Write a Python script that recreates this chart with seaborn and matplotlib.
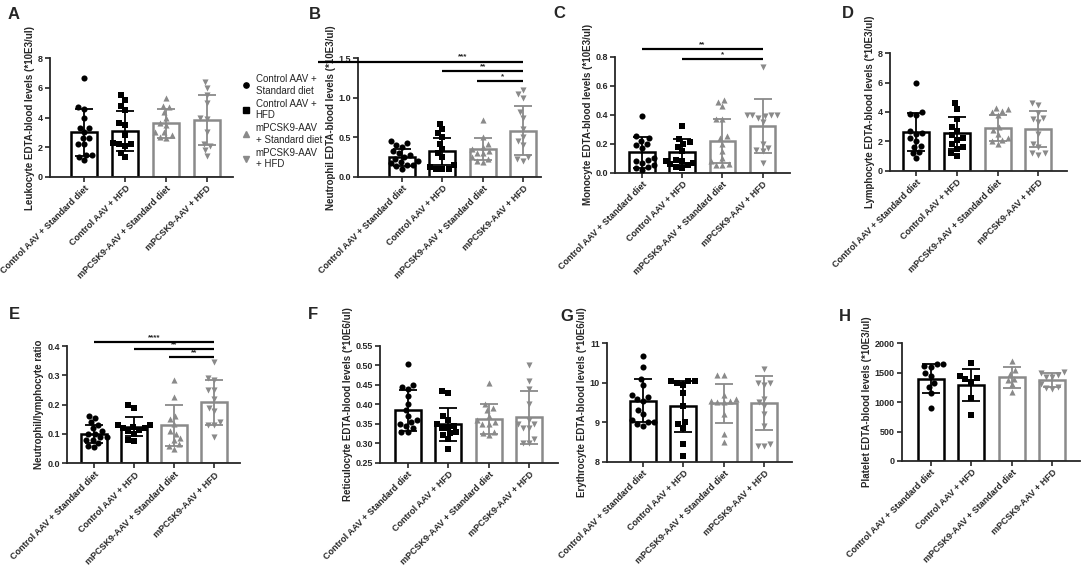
import matplotlib
matplotlib.use('Agg')
import matplotlib.pyplot as plt
from matplotlib.lines import Line2D
from matplotlib.ticker import FormatStrFormatter
import seaborn as sns

groups = ['Control AAV + Standard diet', 'Control AAV + HFD',
          'mPCSK9-AAV + Standard diet', 'mPCSK9-AAV + HFD']
legend_labels = ['Control AAV +\nStandard diet', 'Control AAV +\nHFD',
                 'mPCSK9-AAV\n+ Standard diet', 'mPCSK9-AAV\n+ HFD']

# A - leukocytes
leuko_mean = [3.0, 3.1, 3.6, 3.85]
leuko_sd = [1.6, 1.35, 1.0, 1.7]
leuko_pts = [[6.7, 4.7, 4.6, 4.0, 3.3, 3.3, 3.0, 2.6, 2.6, 2.2, 2.2, 1.5, 1.5, 1.3, 1.1],
             [5.5, 5.2, 4.8, 4.5, 3.6, 3.5, 2.8, 2.3, 2.2, 2.2, 2.1, 1.6, 1.3],
             [5.3, 4.8, 4.7, 4.4, 4.0, 3.6, 3.5, 3.0, 3.0, 2.8, 2.7, 2.6],
             [6.4, 6.0, 5.5, 5.0, 4.0, 3.9, 3.0, 2.2, 2.1, 1.8, 1.4]]

# B - neutrophils
neutro_mean = [0.245, 0.32, 0.35, 0.58]
neutro_sd = [0.11, 0.17, 0.14, 0.31]
neutro_pts = [[0.45, 0.43, 0.40, 0.38, 0.32, 0.30, 0.28, 0.25, 0.22, 0.20, 0.18, 0.17, 0.15, 0.15, 0.13, 0.10],
              [0.67, 0.60, 0.55, 0.50, 0.42, 0.35, 0.30, 0.25, 0.15, 0.12, 0.10, 0.10, 0.10],
              [0.72, 0.50, 0.42, 0.38, 0.35, 0.32, 0.30, 0.30, 0.25, 0.22, 0.20, 0.18],
              [1.10, 1.05, 1.00, 0.82, 0.75, 0.60, 0.50, 0.45, 0.40, 0.25, 0.22, 0.20]]
neutro_sig = [(0, 3, '***'), (1, 3, '**'), (2, 3, '*')]

# C - monocytes
mono_mean = [0.14, 0.14, 0.22, 0.32]
mono_sd = [0.105, 0.09, 0.15, 0.185]
mono_pts = [[0.39, 0.25, 0.24, 0.22, 0.20, 0.19, 0.17, 0.10, 0.09, 0.08, 0.07, 0.05, 0.04, 0.03, 0.02],
            [0.32, 0.23, 0.21, 0.20, 0.18, 0.15, 0.09, 0.08, 0.08, 0.07, 0.06, 0.05, 0.04, 0.03],
            [0.50, 0.49, 0.46, 0.37, 0.37, 0.25, 0.24, 0.20, 0.15, 0.10, 0.08, 0.06, 0.05, 0.05],
            [0.73, 0.40, 0.40, 0.40, 0.40, 0.39, 0.38, 0.35, 0.20, 0.17, 0.16, 0.15, 0.07]]
mono_sig = [(0, 3, '**'), (1, 3, '*')]

# D - lymphocytes
lympho_mean = [2.66, 2.55, 2.9, 2.85]
lympho_sd = [1.3, 1.1, 0.9, 1.25]
lympho_pts = [[5.95, 4.0, 3.85, 3.8, 2.7, 2.6, 2.5, 2.2, 2.0, 1.7, 1.6, 1.3, 1.2, 0.85],
              [4.6, 4.2, 3.5, 3.0, 2.7, 2.4, 2.2, 2.1, 1.8, 1.6, 1.5, 1.2, 1.0],
              [4.3, 4.2, 4.1, 4.0, 3.8, 3.0, 2.8, 2.5, 2.2, 2.1, 2.0, 1.8],
              [4.6, 4.5, 3.9, 3.6, 3.5, 3.3, 2.5, 1.8, 1.6, 1.2, 1.2, 1.1]]

# E - neutrophil/lymphocyte ratio
nlr_mean = [0.10, 0.125, 0.13, 0.208]
nlr_sd = [0.03, 0.033, 0.07, 0.077]
nlr_pts = [[0.16, 0.155, 0.14, 0.13, 0.12, 0.11, 0.10, 0.10, 0.09, 0.09, 0.08, 0.08, 0.07, 0.06, 0.055],
           [0.20, 0.19, 0.13, 0.13, 0.125, 0.12, 0.12, 0.115, 0.11, 0.10, 0.08, 0.075],
           [0.285, 0.225, 0.16, 0.15, 0.135, 0.11, 0.10, 0.085, 0.08, 0.065, 0.06, 0.05],
           [0.345, 0.29, 0.285, 0.25, 0.25, 0.22, 0.19, 0.18, 0.14, 0.13, 0.13, 0.09]]
nlr_sig = [(0, 3, '****'), (1, 3, '**'), (2, 3, '**')]

# F - reticulocytes
retic_mean = [0.384, 0.348, 0.362, 0.366]
retic_sd = [0.053, 0.043, 0.038, 0.067]
retic_pts = [[0.502, 0.448, 0.445, 0.44, 0.42, 0.40, 0.385, 0.37, 0.36, 0.355, 0.35, 0.345, 0.34, 0.33, 0.33],
             [0.435, 0.43, 0.37, 0.36, 0.35, 0.345, 0.34, 0.34, 0.33, 0.325, 0.32, 0.31, 0.285],
             [0.455, 0.40, 0.39, 0.385, 0.37, 0.36, 0.355, 0.35, 0.35, 0.33, 0.325, 0.32],
             [0.50, 0.46, 0.44, 0.40, 0.36, 0.35, 0.35, 0.34, 0.34, 0.31, 0.30, 0.30]]

# G - erythrocytes
ery_mean = [9.55, 9.4, 9.48, 9.48]
ery_sd = [0.55, 0.65, 0.5, 0.68]
ery_pts = [[10.68, 10.4, 10.1, 9.95, 9.7, 9.65, 9.6, 9.55, 9.3, 9.2, 9.05, 9.0, 9.0, 8.95, 8.9],
           [10.05, 10.05, 10.05, 10.0, 9.95, 9.75, 9.4, 9.0, 8.95, 8.85, 8.45, 8.15],
           [10.2, 10.2, 9.7, 9.6, 9.55, 9.55, 9.5, 9.5, 9.2, 8.7, 8.5],
           [10.35, 10.0, 10.0, 9.95, 9.6, 9.5, 9.4, 9.2, 8.9, 8.45, 8.4, 8.4]]

# H - platelets
plt_mean = [1400, 1290, 1420, 1370]
plt_sd = [240, 270, 180, 120]
plt_pts = [[1650, 1640, 1620, 1600, 1500, 1450, 1320, 1250, 1150, 900],
           [1660, 1445, 1405, 1390, 1350, 1065, 782],
           [1700, 1550, 1480, 1400, 1380, 1300, 1170],
           [1510, 1500, 1460, 1430, 1420, 1300, 1250, 1240, 1230]]

colors = ['black', 'black', '#8a8a8a', '#8a8a8a']
markers = ['o', 's', '^', 'v']

panels = [
    ('A', leuko_mean, leuko_sd, leuko_pts, 'Leukocyte EDTA-blood levels (*10E3/ul)',
     (0, 8), [0, 2, 4, 6, 8], '%d', []),
    ('B', neutro_mean, neutro_sd, neutro_pts, 'Neutrophil EDTA-blood levels (*10E3/ul)',
     (0, 1.5), [0, 0.5, 1.0, 1.5], '%.1f', neutro_sig),
    ('C', mono_mean, mono_sd, mono_pts, 'Monocyte EDTA-blood levels (*10E3/ul)',
     (0, 0.8), [0, 0.2, 0.4, 0.6, 0.8], '%.1f', mono_sig),
    ('D', lympho_mean, lympho_sd, lympho_pts, 'Lymphocyte EDTA-blood levels (*10E3/ul)',
     (0, 8), [0, 2, 4, 6, 8], '%d', []),
    ('E', nlr_mean, nlr_sd, nlr_pts, 'Neutrophil/lymphocyte ratio',
     (0, 0.4), [0, 0.1, 0.2, 0.3, 0.4], '%.1f', nlr_sig),
    ('F', retic_mean, retic_sd, retic_pts, 'Reticulocyte EDTA-blood levels (*10E6/ul)',
     (0.25, 0.55), [0.25, 0.30, 0.35, 0.40, 0.45, 0.50, 0.55], '%.2f', []),
    ('G', ery_mean, ery_sd, ery_pts, 'Erythrocyte EDTA-blood levels (*10E6/ul)',
     (8, 11), [8, 9, 10, 11], '%d', []),
    ('H', plt_mean, plt_sd, plt_pts, 'Platelet EDTA-blood levels (*10E3/ul)',
     (0, 2000), [0, 500, 1000, 1500, 2000], '%d', []),
]

# layout in pixels: axis x0, axis x1, top, bottom, first bar centre, bar spacing
boxes = {
    'A': (50, 233, 58.3, 176.7, 84.3, 40.8),
    'B': (358.3, 541, 58.3, 176.7, 402, 40.4),
    'C': (615, 790, 56.7, 172.7, 642, 40.2),
    'D': (890, 1066.7, 53.3, 170.7, 916, 40.8),
    'E': (66.7, 240, 346, 463.3, 94, 40.1),
    'F': (380, 558, 345.7, 462.7, 407.7, 40.5),
    'G': (606.7, 791.7, 343.3, 461.7, 642.7, 40.5),
    'H': (901.7, 1080, 343.3, 461, 930.7, 40.5),
}
letter_pos = {'A': (8, 7), 'B': (309, 7), 'C': (553, 6), 'D': (842, 6),
              'E': (9, 307), 'F': (308, 307), 'G': (560, 309), 'H': (839, 309)}
# bracket heights (data units) and where each line starts
sig_levels = {'B': [1.458, 1.34, 1.214], 'C': [0.851, 0.782], 'E': [0.4146, 0.3897, 0.3635]}
sig_starts = {'B': [-2.08, 1, 1.86], 'C': [0, 1], 'E': [0, 1, 1.86]}

sns.set_style('ticks')
plt.rcParams['font.family'] = ['Liberation Sans', 'DejaVu Sans']
plt.rcParams['font.weight'] = 'bold'
plt.rcParams['axes.labelweight'] = 'bold'

W, H = 1084, 568
fig = plt.figure(figsize=(W / 100, H / 100), dpi=100)

for letter, means, sds, pts, ylabel, ylim, yticks, fmt, sig in panels:
    x0, x1, yt, yb, c0, sp = boxes[letter]
    ax = fig.add_axes([x0 / W, 1 - yb / H, (x1 - x0) / W, (yb - yt) / H])
    sns.barplot(x=groups, y=means, color='white', width=0.64, linewidth=1.8,
                errorbar=None, saturation=1, ax=ax, zorder=1)
    for patch, c in zip(ax.patches, colors):
        patch.set_edgecolor(c)
        patch.set_facecolor('white')
    for i, vals in enumerate(pts):
        sns.swarmplot(x=[groups[i]] * len(vals), y=vals, order=groups,
                      color=colors[i], marker=markers[i], size=4.4, ax=ax,
                      zorder=3, warn_thresh=1)
    for i in range(4):
        ax.errorbar(i, means[i], yerr=sds[i], fmt='none', ecolor=colors[i],
                    elinewidth=1.3, capsize=6.5, capthick=1.3, zorder=4)

    left = -(c0 - x0) / sp
    right = 3 + (x1 - (c0 + 3 * sp)) / sp
    ax.set_xlim(left, right)
    ax.set_ylim(*ylim)
    ax.set_yticks(yticks)
    ax.yaxis.set_major_formatter(FormatStrFormatter(fmt))
    ax.set_xticks(range(4))
    ax.set_xticklabels(groups, rotation=45, ha='right', rotation_mode='anchor')
    ax.tick_params(length=3.5, width=1.2, labelsize=6.5, pad=1.5)
    ax.set_ylabel(ylabel, fontsize=7, labelpad=2)
    ax.set_xlabel('')
    for s in ['top', 'right']:
        ax.spines[s].set_visible(False)
    for s in ['left', 'bottom']:
        ax.spines[s].set_linewidth(1.3)

    for k, (i, j, stars) in enumerate(sig):
        y = sig_levels[letter][k]
        ax.plot([sig_starts[letter][k], j], [y, y], color='black', lw=1.6,
                clip_on=False, solid_capstyle='butt', zorder=5)
        ax.text((i + j) / 2, y + 0.008 * (ylim[1] - ylim[0]), stars, ha='center',
                va='bottom', fontsize=5.8, clip_on=False)

    lx, ly = letter_pos[letter]
    fig.text(lx / W, 1 - ly / H, letter, fontsize=12, weight='bold',
             ha='left', va='top')

handles = [Line2D([], [], marker=m, color=c, linestyle='none', markersize=3.8)
           for m, c in zip(markers, colors)]
fig.legend(handles, legend_labels, loc='upper left', bbox_to_anchor=(242 / W, 1 - 74 / H),
           frameon=False, prop={'size': 7, 'weight': 'normal'}, handlelength=0.8,
           handletextpad=0.6, labelspacing=0.3, borderpad=0, borderaxespad=0)

fig.savefig('out.png', dpi=100)
